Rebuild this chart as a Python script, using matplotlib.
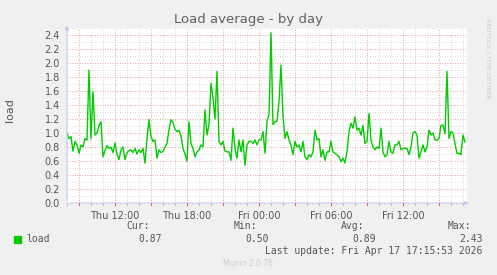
#!/usr/bin/env python3
"""Munin style 'Load average - by day' graph, redrawn with matplotlib."""
import numpy as np
import matplotlib
matplotlib.use("Agg")
import matplotlib.pyplot as plt

# load samples, one every 10 minutes starting Thu 08:00
load = [
    1.00, 0.92, 0.95, 0.74, 0.88, 0.83, 0.71, 0.83, 0.80, 0.92,
    0.90, 1.90, 0.92, 1.59, 0.97, 1.00, 1.10, 1.16, 0.66, 0.75,
    0.82, 0.78, 0.80, 0.72, 0.86, 0.70, 0.62, 0.76, 0.80, 0.62,
    0.72, 0.75, 0.76, 0.72, 0.78, 0.70, 0.76, 0.72, 0.78, 0.57,
    0.92,
    1.19, 0.95, 0.88, 0.90, 0.64, 0.76, 0.72, 0.74, 0.80, 0.85,
    1.05, 1.19, 1.15, 1.05, 1.02, 1.04, 0.96, 0.78, 0.70, 0.60,
    1.16, 0.85, 0.78, 0.66, 0.73, 0.76, 0.83, 0.80, 1.33, 0.97,
    1.12, 1.71, 1.50, 1.20, 1.88, 0.88, 0.83, 0.88, 0.74, 0.73,
    0.73, 0.61, 1.07, 0.78, 0.64, 0.90, 0.73, 0.90, 0.54, 0.83,
    0.88, 0.88, 0.85, 0.90, 0.83, 0.90, 0.90, 1.02, 0.71, 1.17,
    1.26, 2.43, 1.12, 1.16, 1.17, 1.45, 1.97, 1.25, 0.92, 1.02,
    0.90, 0.83, 0.69, 0.88, 0.80, 0.83, 0.73, 0.88, 0.66, 0.62,
    0.69, 0.66, 0.73, 1.04, 0.90, 0.92, 0.66, 0.76, 0.61, 0.73,
    0.73, 0.88, 0.73, 0.71, 0.69, 0.66, 0.59, 0.64, 0.57, 0.73,
    1.02, 1.14, 1.07, 1.23, 1.04, 1.07, 0.97, 1.11, 0.85, 0.88,
    1.28, 0.90, 0.80, 0.76, 0.80, 0.78, 1.07, 0.73, 0.66, 0.69,
    0.88, 0.73, 0.71, 0.83, 0.83, 0.88, 0.76, 0.78, 0.78, 0.78,
    0.69, 0.80, 1.00, 1.02, 0.97, 0.64, 0.73, 0.83, 0.73, 0.80,
    1.04, 0.97, 1.00, 0.90, 0.90, 0.92, 1.11, 1.11, 0.99, 1.88,
    0.92, 1.02, 1.00, 0.85, 0.71, 0.71, 0.69, 0.97, 0.87,
]
start_hour = 8.0          # Thu 08:00, hours counted from Thu 00:00
step_hour = 10 / 60.0
span_hours = 400 / 12.0   # 400 px wide, 12 px per hour

tick_hours = [12, 18, 24, 30, 36]
tick_labels = ["Thu 12:00", "Thu 18:00", "Fri 00:00", "Fri 06:00", "Fri 12:00"]

stat_names = ["Cur:", "Min:", "Avg:", "Max:"]
stat_values = ["0.87", "0.50", "0.89", "2.43"]
last_update = "Last update: Fri Apr 17 17:15:53 2026"

BG = "#f0f0f0"
TXT = "#555555"
AXIS = "#c8c8f0"

W, H = 497, 275
fig = plt.figure(figsize=(W / 100, H / 100), dpi=100, facecolor=BG)
ax = fig.add_axes([67 / W, (H - 203) / H, 400 / W, 175 / H])
ax.set_facecolor("white")

x0, x1 = start_hour, start_hour + span_hours
ax.set_xlim(x0, x1)
ax.set_ylim(0, 2.5)

# grid: minor gray, major red (rrdtool style)
for h in np.arange(np.ceil(x0), x1, 1.0):
    col = "#e08080" if h % 3 == 0 else "#d0d0d0"
    ax.axvline(h, color=col, lw=0.6, ls=(0, (1, 2)), zorder=1)
for v in np.arange(0.1, 2.51, 0.1):
    major = round(v * 10) % 2 == 0
    col = "#e08080" if major else "#d0d0d0"
    ax.axhline(v, color=col, lw=0.6, ls=(0, (1, 2)), zorder=1)

hours = start_hour + np.arange(len(load)) * step_hour
ax.plot(hours, load, color="#00cc00", lw=1.0, zorder=3)

for s in ax.spines.values():
    s.set_visible(False)
ax.tick_params(length=0)
ax.set_xticks(tick_hours)
ax.set_xticklabels(tick_labels, fontsize=7, color=TXT)
ax.set_yticks(np.arange(0, 2.41, 0.2))
ax.set_yticklabels([f"{v:.1f}" for v in np.arange(0, 2.41, 0.2)], fontsize=7, color=TXT)
ax.tick_params(axis="x", pad=6)
ax.tick_params(axis="y", pad=5)

# axis lines with arrows
ax.annotate("", xy=(1.012, 0), xytext=(0, 0), xycoords="axes fraction",
            arrowprops=dict(arrowstyle="-|>", color=AXIS, lw=0.8, mutation_scale=6),
            annotation_clip=False, zorder=4)
ax.annotate("", xy=(0, 1.03), xytext=(0, 0), xycoords="axes fraction",
            arrowprops=dict(arrowstyle="-|>", color=AXIS, lw=0.8, mutation_scale=6),
            annotation_clip=False, zorder=4)
for h in np.arange(np.ceil(x0), x1, 1.0):
    col = "#e06060" if h % 3 == 0 else "#c0c0c0"
    ax.plot([h, h], [0, -0.03], color=col, lw=0.8, clip_on=False, zorder=4)

fig.text(248 / W, 1 - 19 / H, "Load average - by day", ha="center", va="center",
         fontsize=9.5, color="#606060")
fig.text(10 / W, 1 - 110 / H, "load", rotation=90, ha="center", va="center",
         fontsize=8, color=TXT)
fig.text(488 / W, 1 - 58 / H, "RRDTOOL / TOBI OETIKER", rotation=270, ha="center",
         va="center", fontsize=4.5, color="#c8c8c8")

mono = "DejaVu Sans Mono"
fig.patches.append(plt.Rectangle((14 / W, 1 - 243 / H), 7 / W, 7 / H,
                                 transform=fig.transFigure, color="#00cc00"))
fig.text(26 / W, 1 - 239 / H, "load", ha="left", va="center", family=mono,
         fontsize=7, color=TXT)
for i, (name, val) in enumerate(zip(stat_names, stat_values)):
    fig.text((150 + 107 * i) / W, 1 - 226 / H, name, ha="right", va="center",
             family=mono, fontsize=7, color=TXT)
    fig.text((162 + 107 * i) / W, 1 - 239 / H, val, ha="right", va="center",
             family=mono, fontsize=7, color=TXT)
fig.text(482 / W, 1 - 251 / H, last_update, ha="right", va="center",
         family=mono, fontsize=7, color=TXT)
fig.text(248 / W, 1 - 264 / H, "Munin 2.0.76", ha="center", va="center",
         fontsize=5.5, color="#cccccc")

fig.savefig("out.png", dpi=100, facecolor=BG)
